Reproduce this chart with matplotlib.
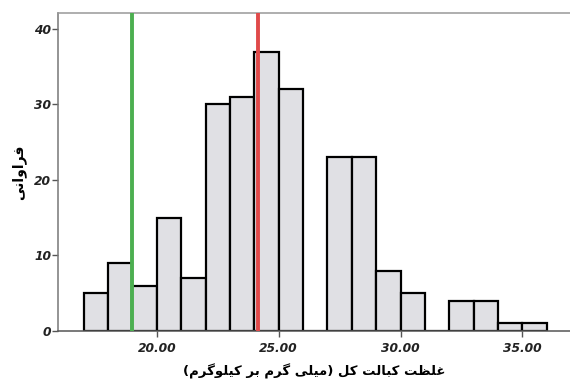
import numpy as np
import matplotlib

matplotlib.use('agg')
import matplotlib.pyplot as plt

# histogram of total cobalt concentration (mg/kg)
bin_left = [17, 18, 19, 20, 21, 22, 23, 24, 25, 26, 27, 28, 29, 30, 31, 32, 33, 34, 35]
counts = [5, 9, 6, 15, 7, 30, 31, 37, 32, 0, 23, 23, 8, 5, 0, 4, 4, 1, 1]
green_x = 18.98
red_x = 24.17
x_ticks = [20.0, 25.0, 30.0, 35.0]
y_ticks = [0, 10, 20, 30, 40]

xlabel = 'غلظت کبالت کل (میلی گرم بر کیلوگرم)'
ylabel = 'فراوانی'

# minimal persian shaping: (isolated, final, initial, medial)
FORMS = {
    'ا': ('\uFE8D', '\uFE8E', None, None),
    'ب': ('\uFE8F', '\uFE90', '\uFE91', '\uFE92'),
    'ت': ('\uFE95', '\uFE96', '\uFE97', '\uFE98'),
    'ر': ('\uFEAD', '\uFEAE', None, None),
    'ظ': ('\uFEC5', '\uFEC6', '\uFEC7', '\uFEC8'),
    'غ': ('\uFECD', '\uFECE', '\uFECF', '\uFED0'),
    'ف': ('\uFED1', '\uFED2', '\uFED3', '\uFED4'),
    'ل': ('\uFEDD', '\uFEDE', '\uFEDF', '\uFEE0'),
    'م': ('\uFEE1', '\uFEE2', '\uFEE3', '\uFEE4'),
    'ن': ('\uFEE5', '\uFEE6', '\uFEE7', '\uFEE8'),
    'و': ('\uFEED', '\uFEEE', None, None),
    'ک': ('\uFB8E', '\uFB8F', '\uFB90', '\uFB91'),
    'گ': ('\uFB92', '\uFB93', '\uFB94', '\uFB95'),
    'ی': ('\uFBFC', '\uFBFD', '\uFBFE', '\uFBFF'),
}


def dual(c):
    return c in FORMS and FORMS[c][2] is not None


def shape(text):
    out = []
    for i, c in enumerate(text):
        if c not in FORMS:
            out.append(c)
            continue
        prev = text[i - 1] if i > 0 else ''
        nxt = text[i + 1] if i + 1 < len(text) else ''
        join_prev = dual(prev)
        join_next = dual(c) and nxt in FORMS
        iso, fin, ini, med = FORMS[c]
        if join_prev and join_next:
            out.append(med)
        elif join_prev:
            out.append(fin)
        elif join_next:
            out.append(ini)
        else:
            out.append(iso)
    vis = ''.join(reversed(out))
    return vis.translate(str.maketrans('()', ')('))


fig = plt.figure(figsize=(5.7, 3.79), dpi=100)
ax = fig.add_axes([58 / 570, 1 - 331 / 379, 1 - 58 / 570, (331 - 13) / 379])

ax.bar(bin_left, counts, width=1.0, align='edge', color='#e0e0e4',
       edgecolor='black', linewidth=1.6, zorder=2)
ax.axvline(green_x, color='#4caf50', linewidth=2.8, zorder=3)
ax.axvline(red_x, color='#e04a4a', linewidth=2.8, zorder=3)

ax.set_xlim(15.95, 36.95)
ax.set_ylim(0, 42.1)
ax.set_xticks(x_ticks)
ax.set_xticklabels([f'{v:.2f}' for v in x_ticks])
ax.set_yticks(y_ticks)

for s in ['left', 'top', 'bottom']:
    ax.spines[s].set_color('#777777')
    ax.spines[s].set_linewidth(1.1)
ax.spines['top'].set_color('#999999')
ax.spines['bottom'].set_color('#555555')
ax.spines['right'].set_visible(False)
ax.tick_params(axis='both', color='#555555', length=4, width=1.0)
ax.tick_params(axis='x', pad=4)
ax.tick_params(axis='y', pad=1)
for lab in ax.get_xticklabels() + ax.get_yticklabels():
    lab.set_fontsize(8.8)
    lab.set_fontweight('bold')
    lab.set_fontstyle('italic')
    lab.set_color('#222222')

ax.set_xlabel(shape(xlabel), fontsize=9.5, fontweight='bold', family=['DejaVu Sans'],
              labelpad=6)
ax.set_ylabel(shape(ylabel), fontsize=10, fontweight='bold', family=['DejaVu Sans'],
              labelpad=6)

fig.savefig('out.png', dpi=100)
